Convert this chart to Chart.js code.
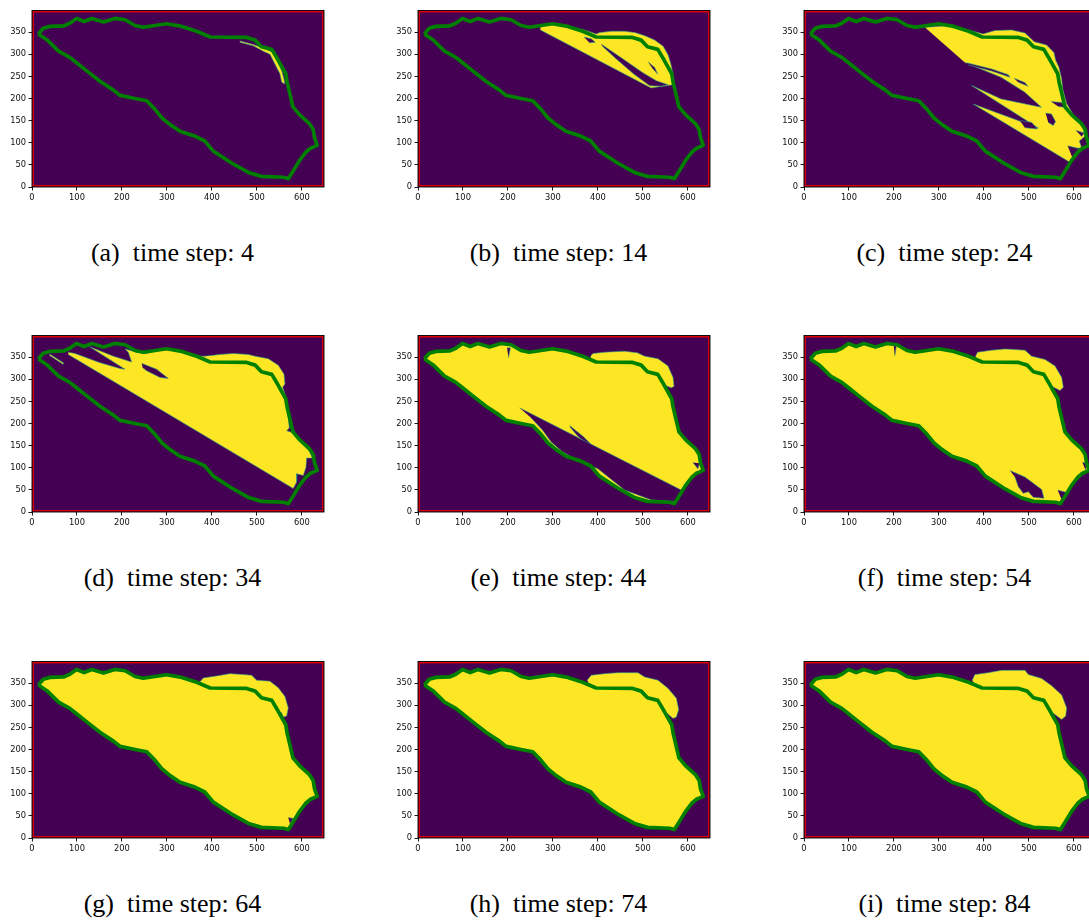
<!DOCTYPE html>
<html>
<head>
<meta charset="utf-8">
<script src="https://cdn.jsdelivr.net/npm/chart.js@4.4.1/dist/chart.umd.min.js"></script>
<style>
  html, body { margin: 0; padding: 0; background: #fff; overflow: hidden; }
  body { position: relative; width: 1089px; height: 922px; }
  canvas { position: absolute; }
  .cap {
    position: absolute; width: 320px; text-align: center; white-space: pre;
    font-family: "Liberation Serif", "Times New Roman", serif; font-size: 26px; line-height: 26px; color: #000;
  }
</style>
</head>
<body>
<script>
// flood extent snapshots over the lake outline, one panel per time step

const panelTags = ['a', 'b', 'c', 'd', 'e', 'f', 'g', 'h', 'i'];
const timeSteps = [4, 14, 24, 34, 44, 54, 64, 74, 84];
const xTicks = [0, 100, 200, 300, 400, 500, 600];
const yTicks = [0, 50, 100, 150, 200, 250, 300, 350];

// lake boundary (image pixel coordinates)
const coastline = [
  [14, 346], [25, 359], [40, 363], [70, 364], [84, 370], [99, 381], [116, 374], [133, 381],
  [159, 373], [184, 381], [207, 378], [229, 365], [247, 361], [266, 364], [299, 369], [333, 363],
  [366, 352], [396, 339], [477, 338], [496, 332], [510, 317], [533, 311], [547, 287], [564, 256],
  [567, 237], [580, 181], [595, 163], [616, 144], [625, 130], [628, 111], [634, 94], [618, 87],
  [608, 78], [594, 59], [581, 37], [570, 19], [559, 22], [510, 24], [481, 33], [447, 52],
  [403, 81], [384, 104], [362, 115], [329, 126], [307, 141], [289, 156], [273, 176], [255, 195],
  [229, 200], [196, 207], [181, 219], [151, 239], [121, 263], [99, 281], [84, 293], [59, 307],
  [33, 333], [14, 346]
];

// wet areas per step
const fillA = [
  [462, 330], [492, 322], [521, 311], [536, 304], [547, 281], [555, 263], [560, 244], [562, 233],
  [555, 237], [551, 256], [540, 278], [529, 300], [514, 307], [492, 319], [462, 327]
];

const fillB = [
  [272, 361], [296, 369], [333, 364], [370, 355], [396, 346], [404, 349], [430, 352], [459, 352],
  [482, 349], [504, 342], [526, 332], [545, 318], [556, 298], [562, 278], [567, 255], [569, 231],
  [559, 230], [518, 224], [272, 355]
];
const holesB = [
  [[407, 323], [455, 290], [500, 258], [530, 240], [556, 231], [540, 228], [515, 229], [480, 255], [440, 290], [410, 318]],
  [[369, 339], [385, 335], [394, 327], [381, 326]],
  [[511, 283], [526, 270], [533, 255], [522, 267]]
];

const fillC = [
  [268.5, 360.9], [327.8, 365.3], [398.3, 346], [424.2, 353.5], [461.3, 354.9], [491, 348.3],
  [511.8, 328.3], [539.2, 320.9], [555.5, 303.8], [559.2, 286.8], [566.6, 270.5], [572.6, 244.6],
  [574.8, 222.4], [583.7, 189], [600.8, 159.4], [620.8, 133.5], [624.5, 114.9], [611.9, 103.8],
  [617.1, 89], [603.7, 86.8], [594.8, 63.1], [591.1, 55.7], [376, 187.5], [520.7, 133.5],
  [372.3, 229.7], [438, 199], [528, 180], [490, 215], [438, 248], [357.5, 281.6]
];
const holesC = [
  [[361, 281], [417, 267], [454, 254], [458, 248], [417, 262], [365, 276]],
  [[467, 246], [491, 236], [498, 228], [476, 237]],
  [[480, 150], [506, 146], [519, 131], [491, 134]],
  [[537, 167], [550, 165], [559, 148], [554, 139], [543, 146]],
  [[549, 193], [573, 191], [580, 180], [565, 182]],
  [[586, 93], [611, 87], [596, 67]],
  [[604, 128], [623, 122], [617, 114]]
];

const fillD = [
  [80.7, 361.2], [95.6, 358.2], [151.1, 337.5], [195.6, 324.2], [206.7, 322.7], [128.9, 373],
  [143.7, 367.1], [180.7, 352.3], [221.5, 339], [214.1, 361.2], [206.7, 368.5], [232.6, 361.2],
  [254.8, 358.2], [277, 365.6], [299.3, 370], [336.3, 363.4], [373.3, 352.3], [384.4, 352.3],
  [417.8, 356], [447.4, 358.2], [480.7, 356], [495.6, 352.3], [525.2, 346.4], [547.4, 331.6],
  [560, 311.7], [562.2, 289.5], [557, 282.2], [562.2, 267.4], [567.4, 234.1], [571.9, 189.8],
  [566, 183.9], [580.7, 178.7], [599.3, 156.6], [616.3, 138.1], [623.7, 121.9], [610.4, 121.9],
  [608.9, 101.2], [603, 82.7], [588.1, 86.4], [588.1, 67.9], [580.7, 53.2], [80.7, 356]
];
const streakD = [[40, 356.7], [71.1, 336], [68.1, 334.6], [38.5, 354.5]];
const holesD = [
  [[243.7, 336], [277, 322.7], [303, 302], [284.4, 304.2], [254.8, 319], [245.9, 326.4]]
];

const lobeE = [
  [383.5, 352.3], [388.7, 358.2], [414.7, 361.2], [459.2, 363.4], [487.4, 359.7], [503.7, 352.3],
  [533.4, 346.4], [555.6, 330.1], [566.8, 304.3], [569, 284.3], [563.1, 280.6], [540, 290],
  [480, 320], [390, 330]
];
const holesE = [
  [[225.5, 235.6], [585.3, 49.5], [574.2, 23.6], [518.5, 27.3], [459.2, 49.5], [399.9, 97.5],
   [355.3, 116], [321, 136], [296, 158], [276, 186], [250, 214]],
  [[336.8, 195.7], [366.5, 171.3], [394, 144], [385, 147], [355.3, 171.3], [338.3, 191.3]],
  [[198, 371], [205.5, 371], [201, 348.6]],
  [[611, 112], [622, 97.5], [626, 110]]
];

const lobeF = [
  [381.3, 352.3], [385.8, 361.2], [416.9, 365.6], [446.6, 368.5], [468.8, 367.1], [491.1, 365.6],
  [505.9, 352.3], [535.6, 344.9], [557.9, 330.1], [572.7, 304.3], [576.4, 282.1], [569, 274.7],
  [561.6, 278.4], [540, 290], [480, 320], [390, 330]
];
const holesF = [
  [[457.7, 93.8], [491.1, 79], [528.2, 51], [533.4, 31], [509.6, 33.2], [498.5, 45.8],
   [487.4, 42.1], [476.3, 56.9], [468.8, 79]],
  [[563.8, 49.5], [586, 43.6], [574.2, 23.6]],
  [[618.7, 112.3], [628.3, 110], [626.1, 93.8]],
  [[199.6, 375.9], [205.5, 375.9], [201.8, 352.3]]
];

const lobeG = [
  [373.3, 353], [380.7, 361.9], [410.4, 366.3], [440, 371.5], [469.6, 369.3], [488.1, 367.8],
  [499.3, 356.7], [528.9, 354.5], [547.4, 339.7], [562.2, 319.8], [569.6, 293.9], [565.9, 275.5],
  [558.5, 273.3], [554.8, 282.9], [540, 290], [480, 320], [390, 330]
];
const holesG = [
  [[569.6, 46.5], [580.7, 44], [573.3, 32]]
];

const lobeH = [
  [376.1, 356.7], [385, 367.8], [414.7, 371.5], [444.4, 373.7], [488.9, 373.7], [503.7, 364.1],
  [533.4, 356.7], [555.6, 338.3], [574.2, 316.1], [579.4, 290.3], [574.2, 273.3], [566.8, 270.3],
  [545, 290], [480, 320], [390, 330]
];

const lobeI = [
  [373.9, 356.7], [379.8, 369.3], [409.5, 373.7], [439.2, 378.9], [491.1, 378.9], [498.5, 369.3],
  [528.2, 360.4], [550.4, 344.2], [572.7, 323.5], [583.8, 293.9], [581.6, 275.5], [572.7, 268.1],
  [550, 285], [480, 320], [390, 330]
];

// lobes go underneath the lake fill so their inner edge stays hidden
const panelLobes = [[], [], [], [], [lobeE], [lobeF], [lobeG], [lobeH], [lobeI]];
const panelFills = [
  [fillA], [fillB], [fillC],
  [fillD, streakD], [coastline], [coastline],
  [coastline], [coastline], [coastline]
];
const panelHoles = [[], holesB, holesC, holesD, holesE, holesF, holesG, [], []];

const DRY = '#440154';
const WET = '#fde725';
const EDGE = 'rgba(45,160,135,0.6)';
const SHORE = '#008000';

// grid placement
const colLeft = [32, 418, 804];
const rowTop = [7, 332, 658];
const AREA_W = 292, AREA_H = 180;
const Y_AXIS_W = 30, X_AXIS_H = 18, PAD = 4;

const framePlugin = {
  id: 'frame',
  beforeDatasetsDraw(chart) {
    const { ctx, chartArea: a } = chart;
    ctx.save();
    ctx.fillStyle = DRY;
    ctx.fillRect(a.left, a.top, a.width, a.height);
    ctx.restore();
  },
  afterDraw(chart) {
    const { ctx, chartArea: a } = chart;
    ctx.save();
    // red image border just inside the spines
    ctx.strokeStyle = '#e00000';
    ctx.lineWidth = 1.5;
    ctx.strokeRect(a.left + 1.2, a.top + 1.2, a.width - 2.4, a.height - 2.4);
    ctx.strokeStyle = '#000';
    ctx.lineWidth = 0.9;
    ctx.strokeRect(a.left, a.top, a.width, a.height);
    ctx.restore();
  }
};

function polyDataset(pts, fillColor, edgeColor, order) {
  return {
    data: pts.map(([x, y]) => ({ x, y })),
    borderColor: edgeColor,
    backgroundColor: fillColor,
    borderWidth: 1,
    pointRadius: 0,
    tension: 0,
    fill: 'shape',
    order
  };
}

function axis(min, max, values, fitKey, fitSize) {
  return {
    type: 'linear',
    min, max,
    afterBuildTicks: (s) => { s.ticks = values.map(v => ({ value: v })); },
    afterFit: (s) => { s[fitKey] = fitSize; },
    border: { display: false },
    grid: {
      display: true, drawOnChartArea: false, drawTicks: true,
      tickLength: 3.5, tickColor: '#000', tickWidth: 0.9
    },
    ticks: {
      autoSkip: false, maxRotation: 0, padding: 2.5, color: '#111',
      font: { family: 'DejaVu Sans', size: 8.3 }
    }
  };
}

panelTags.forEach((tag, i) => {
  const col = i % 3, row = Math.floor(i / 3);
  const canvas = document.createElement('canvas');
  canvas.width = Y_AXIS_W + AREA_W + PAD;
  canvas.height = PAD + AREA_H + X_AXIS_H;
  canvas.style.left = (colLeft[col] - Y_AXIS_W) + 'px';
  canvas.style.top = (rowTop[row] - PAD) + 'px';
  document.body.appendChild(canvas);

  const datasets = [];
  panelLobes[i].forEach(p => datasets.push(polyDataset(p, WET, EDGE, 3)));
  panelFills[i].forEach(p => datasets.push(polyDataset(p, WET, p === coastline ? WET : EDGE, 2)));
  panelHoles[i].forEach(p => datasets.push(polyDataset(p, DRY, EDGE, 1)));
  datasets.push({
    data: coastline.map(([x, y]) => ({ x, y })),
    borderColor: SHORE,
    borderWidth: 3.7,
    borderJoinStyle: 'round',
    pointRadius: 0,
    tension: 0,
    fill: false,
    order: 0
  });

  new Chart(canvas.getContext('2d'), {
    type: 'line',
    data: { datasets },
    options: {
      responsive: false,
      animation: false,
      devicePixelRatio: 1,
      events: [],
      layout: { padding: { left: 0, top: PAD, right: PAD, bottom: 0 } },
      plugins: { legend: { display: false }, tooltip: { enabled: false } },
      scales: {
        x: axis(0, 649, xTicks, 'height', X_AXIS_H),
        y: axis(0, 399, yTicks, 'width', Y_AXIS_W)
      }
    },
    plugins: [framePlugin]
  });

  const cap = document.createElement('div');
  cap.className = 'cap';
  cap.textContent = '(' + tag + ')  time step: ' + timeSteps[i];
  cap.style.left = (colLeft[col] + 140.5 - 160) + 'px';
  cap.style.top = (rowTop[row] + 233) + 'px';
  document.body.appendChild(cap);
});
</script>
</body>
</html>
